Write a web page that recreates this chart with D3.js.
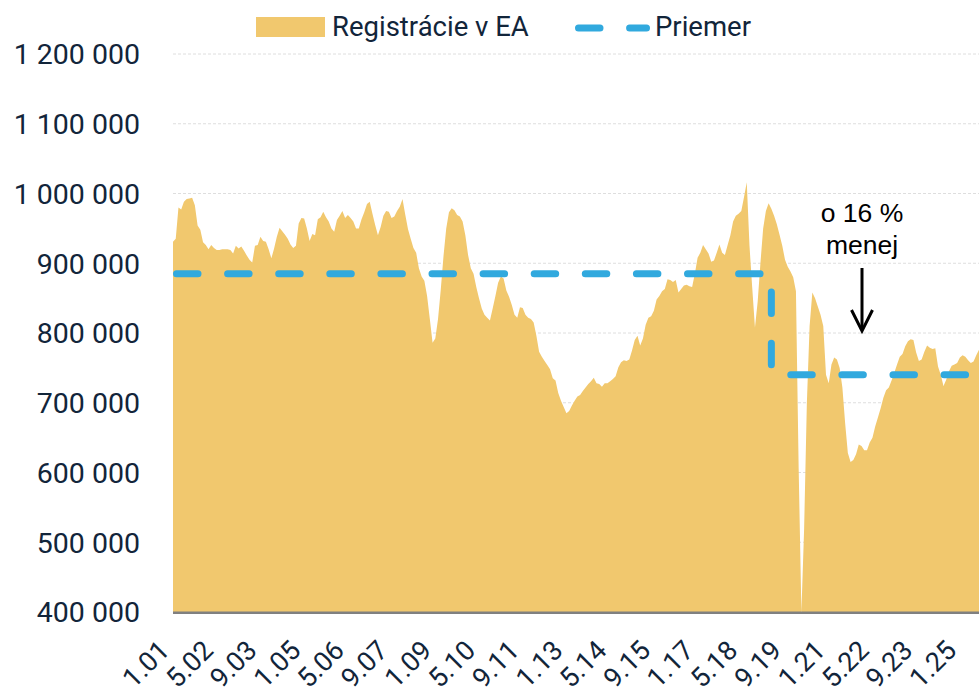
<!DOCTYPE html>
<html>
<head>
<meta charset="utf-8">
<script src="https://cdn.jsdelivr.net/npm/d3@7"></script>
<style>
  body { margin: 0; background: #fff; }
  svg { display: block; }
  text { font-family: Roboto, "Open Sans", sans-serif; }
  .note { font-family: "Liberation Sans", Arial, sans-serif; }
</style>
</head>
<body>
<svg id="chart" width="979" height="691"></svg>
<script>
// mesačné registrácie (v tisícoch), 1.01 - 8.25
const registracie = [
  931, 935, 980, 977, 988, 992, 993, 994, 983, 954,
  948, 930, 926, 920, 926, 922, 919, 919, 920, 920,
  920, 919, 914, 925, 921, 924, 918, 911, 905, 901,
  925, 926, 938, 932, 931, 920, 907, 921, 938, 951,
  946, 941, 935, 927, 922, 925, 957, 965, 964, 950,
  932, 942, 940, 963, 966, 974, 966, 960, 950, 945,
  962, 968, 975, 965, 969, 965, 960, 950, 950, 963,
  973, 985, 988, 971, 955, 940, 952, 968, 975, 974,
  965, 967, 975, 981, 992, 970, 949, 935, 922, 915,
  893, 881, 875, 853, 820, 786, 792, 820, 862, 910,
  950, 973, 979, 976, 969, 967, 960, 940, 912, 893,
  885, 866, 850, 835, 826, 822, 818, 835, 853, 872,
  881, 878, 861, 852, 840, 826, 822, 837, 836, 826,
  822, 820, 815, 796, 773, 766, 760, 754, 748, 735,
  732, 714, 703, 694, 685, 688, 696, 703, 709, 711,
  717, 722, 727, 731, 736, 728, 727, 723, 728, 728,
  731, 734, 738, 751, 758, 761, 760, 762, 775, 790,
  796, 782, 792, 812, 822, 824, 832, 848, 853, 860,
  863, 877, 876, 873, 876, 858, 863, 868, 869, 867,
  866, 885, 908, 915, 926, 920, 914, 902, 904, 915,
  927, 915, 912, 926, 940, 960, 968, 971, 975, 995,
  1016, 925, 865, 808, 845, 900, 950, 975, 986, 978,
  968, 956, 941, 925, 905, 895, 888, 880, 860, 605,
  400, 520, 700, 810, 858, 850, 838, 826, 810, 740,
  728, 755, 765, 762, 750, 722, 671, 628, 615, 618,
  626, 640, 638, 632, 632, 643, 650, 666, 679, 692,
  707, 718, 722, 732, 743, 755, 766, 770, 781, 788,
  791, 790, 772, 760, 762, 773, 782, 779, 777, 778,
  752, 740, 724, 733, 745, 753, 755, 757, 765, 768,
  766, 761, 757, 759, 768, 776
];

// priemer pred a po zlome (v tisícoch)
const priemerUrovne = [885, 740];
const priemerZlom = 219; // index prvého mesiaca s novým priemerom

const xLabels = ["1.01", "5.02", "9.03", "1.05", "5.06", "9.07", "1.09", "5.10", "9.11", "1.13",
  "5.14", "9.15", "1.17", "5.18", "9.19", "1.21", "5.22", "9.23", "1.25"];
const yTicks = [400, 500, 600, 700, 800, 900, 1000, 1100, 1200];

const AREA_COLOR = "#F1C86E";
const LINE_COLOR = "#31A9DE";
const TEXT_COLOR = "#12253a";

const priemer = registracie.map((d, i) => i < priemerZlom ? priemerUrovne[0] : priemerUrovne[1]);

const svg = d3.select("#chart");
const plot = {left: 173, right: 979, top: 54, bottom: 612};

const x = d3.scaleLinear().domain([0, registracie.length - 1]).range([plot.left, plot.right]);
const y = d3.scaleLinear().domain([400, 1200]).range([plot.bottom, plot.top]);

const fmt = d3.formatLocale({decimal: ",", thousands: "\u00a0", grouping: [3], currency: ["", ""]}).format(",d");

// mriežka
svg.append("g")
  .selectAll("line")
  .data(yTicks.slice(1))
  .join("line")
  .attr("x1", plot.left).attr("x2", plot.right)
  .attr("y1", d => y(d)).attr("y2", d => y(d))
  .attr("stroke", "#dedede")
  .attr("stroke-width", 1)
  .attr("stroke-dasharray", "3,2");

// popisy osi y
svg.append("g")
  .selectAll("text")
  .data(yTicks)
  .join("text")
  .attr("x", 140)
  .attr("y", d => y(d))
  .attr("dy", "0.36em")
  .attr("text-anchor", "end")
  .attr("font-size", 28.5)
  .attr("fill", TEXT_COLOR)
  .text(d => fmt(d * 1000));

// plocha
const area = d3.area()
  .x((d, i) => x(i))
  .y0(y(400))
  .y1(d => y(d));

svg.append("path")
  .datum(registracie)
  .attr("d", area)
  .attr("fill", AREA_COLOR);

// os x
svg.append("line")
  .attr("x1", plot.left).attr("x2", plot.right)
  .attr("y1", plot.bottom + 0.8).attr("y2", plot.bottom + 0.8)
  .attr("stroke", "#808080")
  .attr("stroke-width", 2.5);

// priemer
const line = d3.line()
  .x((d, i) => x(i))
  .y(d => y(d))
  .curve(d3.curveStepAfter);

svg.append("path")
  .datum(priemer)
  .attr("d", line)
  .attr("fill", "none")
  .attr("stroke", LINE_COLOR)
  .attr("stroke-width", 7)
  .attr("stroke-linecap", "round")
  .attr("stroke-dasharray", "21.5,29.6")
  .attr("stroke-dashoffset", -3.5);

// popisy osi x
const labelIndex = s => {
  const [m, yy] = s.split(".").map(Number);
  return (yy - 1) * 12 + (m - 1);
};

svg.append("g")
  .selectAll("text")
  .data(xLabels)
  .join("text")
  .attr("transform", d => `translate(${x(labelIndex(d)) - 2},${652}) rotate(-45)`)
  .attr("text-anchor", "end")
  .attr("font-size", 27)
  .attr("fill", TEXT_COLOR)
  .text(d => d);

// legenda
const legend = svg.append("g");
legend.append("rect")
  .attr("x", 256).attr("y", 17)
  .attr("width", 69).attr("height", 20)
  .attr("fill", AREA_COLOR);
legend.append("text")
  .attr("x", 332).attr("y", 36)
  .attr("font-size", 27.5)
  .attr("fill", TEXT_COLOR)
  .text("Registrácie v EA");
legend.append("line")
  .attr("x1", 578.5).attr("x2", 646.5)
  .attr("y1", 28).attr("y2", 28)
  .attr("stroke", LINE_COLOR)
  .attr("stroke-width", 7)
  .attr("stroke-linecap", "round")
  .attr("stroke-dasharray", "21.5,29.6");
legend.append("text")
  .attr("x", 655).attr("y", 36)
  .attr("font-size", 27.5)
  .attr("fill", TEXT_COLOR)
  .text("Priemer");

// anotácia
const note = svg.append("g").attr("class", "note");
note.append("text")
  .attr("class", "note")
  .attr("x", 862).attr("y", 222)
  .attr("text-anchor", "middle")
  .attr("font-size", 26.5)
  .attr("fill", "#000")
  .text("o 16 %");
note.append("text")
  .attr("class", "note")
  .attr("x", 862).attr("y", 254)
  .attr("text-anchor", "middle")
  .attr("font-size", 26.5)
  .attr("fill", "#000")
  .text("menej");
note.append("line")
  .attr("x1", 862).attr("x2", 862)
  .attr("y1", 268).attr("y2", 330)
  .attr("stroke", "#000")
  .attr("stroke-width", 3);
note.append("path")
  .attr("d", "M851.5,310 L862,331 L872.5,310")
  .attr("fill", "none")
  .attr("stroke", "#000")
  .attr("stroke-width", 3);
</script>
</body>
</html>
